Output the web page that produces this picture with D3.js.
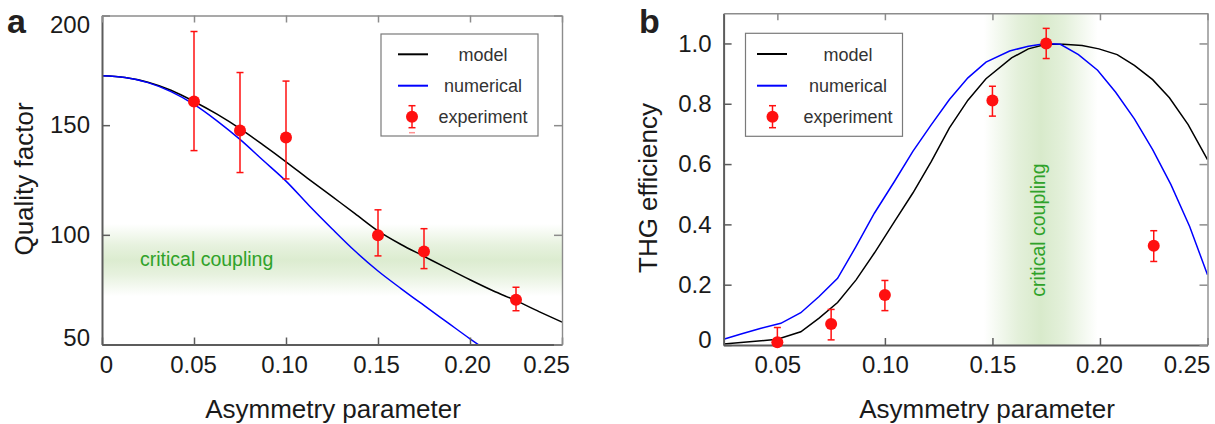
<!DOCTYPE html>
<html>
<head>
<meta charset="utf-8">
<script src="https://cdn.jsdelivr.net/npm/d3@7"></script>
<style>
body { margin: 0; background: #fff; }
svg { display: block; font-family: "Liberation Sans", Arial, Helvetica, sans-serif; }
</style>
</head>
<body>
<svg id="chart" width="1215" height="424"></svg>
<script>
// ---- panel a: quality factor ----
const aExpX = [0.05, 0.075, 0.10, 0.15, 0.175, 0.225];
const aExpQ = [160.8, 147.6, 144.4, 99.8, 92.4, 70.4];
const aExpLow = [138.4, 128.4, 125.5, 90.4, 84.6, 65.4];
const aExpHigh = [192.7, 174.0, 170.1, 111.4, 102.8, 76.1];

const aModelX = [0, 0.0125, 0.025, 0.0375, 0.05, 0.0625, 0.075, 0.0875, 0.10, 0.1125, 0.125, 0.1375, 0.15, 0.1625, 0.175, 0.1875, 0.20, 0.2125, 0.225, 0.2375, 0.25];
const aModelQ = [172.5, 171.7, 169.6, 165.9, 160.8, 155.0, 148.4, 141.0, 133.3, 125.3, 117.5, 109.7, 101.8, 95.6, 90.2, 84.8, 79.5, 74.5, 70.0, 65.0, 60.2];

const aNumX = [0, 0.0125, 0.025, 0.0375, 0.05, 0.0625, 0.075, 0.0875, 0.10, 0.1125, 0.125, 0.1375, 0.15, 0.1625, 0.175, 0.1875, 0.20, 0.2075];
const aNumQ = [172.5, 171.7, 169.4, 165.3, 159.5, 152.0, 143.5, 134.0, 124.5, 113.4, 102.8, 92.6, 83.5, 75.5, 67.8, 60.2, 52.6, 48.2];

const aXTicks = [0, 0.05, 0.10, 0.15, 0.20, 0.25];
const aXLabels = ['0', '0.05', '0.10', '0.15', '0.20', '0.25'];
const aYTicks = [50, 100, 150, 200];
const aYLabels = ['50', '100', '150', '200'];

// ---- panel b: THG efficiency ----
const bExpX = [0.05, 0.075, 0.10, 0.15, 0.175, 0.225];
const bExpEff = [0.009, 0.070, 0.166, 0.811, 1.0, 0.329];
const bExpLow = [0.0, 0.017, 0.114, 0.759, 0.950, 0.277];
const bExpHigh = [0.058, 0.118, 0.214, 0.858, 1.050, 0.379];

const bModelX = [0.025, 0.05, 0.0609, 0.0694, 0.078, 0.0866, 0.0951, 0.1045, 0.113, 0.1216, 0.130, 0.1386, 0.147, 0.1589, 0.1667, 0.175, 0.183, 0.1917, 0.1995, 0.208, 0.216, 0.2245, 0.2323, 0.241, 0.25];
const bModelEff = [0.003, 0.019, 0.044, 0.089, 0.141, 0.216, 0.305, 0.41, 0.504, 0.609, 0.72, 0.812, 0.883, 0.952, 0.982, 0.997, 0.997, 0.993, 0.982, 0.963, 0.927, 0.880, 0.820, 0.731, 0.615];

const bNumX = [0.025, 0.0335, 0.042, 0.0516, 0.0609, 0.0694, 0.078, 0.0866, 0.0951, 0.1045, 0.113, 0.1216, 0.130, 0.1386, 0.147, 0.158, 0.1667, 0.175, 0.1816, 0.190, 0.1989, 0.2073, 0.216, 0.2245, 0.233, 0.2417, 0.25];
const bNumEff = [0.019, 0.037, 0.055, 0.072, 0.107, 0.161, 0.221, 0.327, 0.437, 0.543, 0.642, 0.731, 0.814, 0.886, 0.938, 0.975, 0.991, 1.0, 0.997, 0.963, 0.911, 0.838, 0.75, 0.648, 0.532, 0.393, 0.233];

const bXTicks = [0.05, 0.10, 0.15, 0.20, 0.25];
const bXLabels = ['0.05', '0.10', '0.15', '0.20', '0.25'];
const bYTicks = [0, 0.2, 0.4, 0.6, 0.8, 1.0];
const bYLabels = ['0', '0.2', '0.4', '0.6', '0.8', '1.0'];

const legendLabels = ['model', 'numerical', 'experiment'];
const bandLabel = 'critical coupling';

const svg = d3.select('#chart');
const defs = svg.append('defs');

const FRAME_DARK = '#5c5c5c';
const FRAME_LIGHT = '#8c8c8c';
const RED = '#ff1010';

const drawPanel = (p) => {
    const x = d3.scaleLinear().domain(p.xDomain).range([p.left, p.right]);
    const y = d3.scaleLinear().domain(p.yDomain).range([p.bottom, p.top]);
    const g = svg.append('g');

    defs.append('clipPath').attr('id', `clip-${ p.id }`)
        .append('rect')
        .attr('x', p.left).attr('y', p.top)
        .attr('width', p.right - p.left).attr('height', p.bottom - p.top);

    // green "critical coupling" band
    const grad = defs.append('linearGradient').attr('id', `band-${ p.id }`)
        .attr('x1', 0).attr('y1', 0)
        .attr('x2', p.band.dir === 'h' ? 0 : 1).attr('y2', p.band.dir === 'h' ? 1 : 0);
    [[0, 0], [0.3, 0.7], [0.5, 1], [0.7, 0.7], [1, 0]].forEach(([o, a]) => {
        grad.append('stop').attr('offset', o).attr('stop-color', p.band.color).attr('stop-opacity', a);
    });
    if (p.band.dir === 'h') {
        g.append('rect')
            .attr('x', p.left).attr('width', p.right - p.left)
            .attr('y', y(p.band.hi)).attr('height', y(p.band.lo) - y(p.band.hi))
            .attr('fill', `url(#band-${ p.id })`);
    } else {
        g.append('rect')
            .attr('x', x(p.band.lo)).attr('width', x(p.band.hi) - x(p.band.lo))
            .attr('y', p.top).attr('height', p.bottom - p.top)
            .attr('fill', `url(#band-${ p.id })`);
    }
    const bt = g.append('text')
        .attr('fill', '#2fa22a').attr('font-size', 19.5)
        .text(bandLabel);
    if (p.band.dir === 'h') {
        bt.attr('x', p.band.textX).attr('y', p.band.textY);
    } else {
        bt.attr('text-anchor', 'middle')
            .attr('transform', `translate(${ p.band.textX },${ p.band.textY }) rotate(-90)`);
    }

    // curves
    const curves = g.append('g').attr('clip-path', `url(#clip-${ p.id })`);
    const line = d3.line().x(d => x(d[0])).y(d => y(d[1])).curve(p.curve);
    curves.append('path')
        .datum(d3.zip(p.modelX, p.modelY))
        .attr('fill', 'none').attr('stroke', '#000').attr('stroke-width', 1.5)
        .attr('d', line);
    curves.append('path')
        .datum(d3.zip(p.numX, p.numY))
        .attr('fill', 'none').attr('stroke', '#0000ff').attr('stroke-width', 1.5)
        .attr('d', line);

    // axes (ticks inside, mirrored on top/right)
    const styleAxis = (ax, color, width) => {
        ax.attr('font-family', null).attr('font-size', 24);
        ax.select('.domain').attr('stroke', color).attr('stroke-width', width);
        ax.selectAll('.tick line').attr('stroke', color).attr('stroke-width', 1.5);
        ax.selectAll('.tick text').attr('fill', '#1a1a1a');
    };
    const bottom = g.append('g').attr('transform', `translate(0,${ p.bottom })`)
        .call(d3.axisBottom(x).tickValues(p.xTicks).tickFormat((d, i) => p.xLabels[i])
            .tickSizeInner(-7).tickSizeOuter(0).tickPadding(11));
    styleAxis(bottom, FRAME_DARK, 2);
    bottom.selectAll('.tick text').attr('dx', (d, i) => p.xShift[i] || 0);

    const left = g.append('g').attr('transform', `translate(${ p.left },0)`)
        .call(d3.axisLeft(y).tickValues(p.yTicks).tickFormat((d, i) => p.yLabels[i])
            .tickSizeInner(-8).tickSizeOuter(0).tickPadding(12));
    styleAxis(left, FRAME_DARK, 2);
    left.selectAll('.tick text').attr('dy', (d, i) => `${ 0.32 * 24 + (p.yShift[i] || 0) }px`);

    const top = g.append('g').attr('transform', `translate(0,${ p.top })`)
        .call(d3.axisTop(x).tickValues(p.xTicks).tickFormat('').tickSizeInner(-7).tickSizeOuter(0));
    styleAxis(top, FRAME_LIGHT, 1.4);
    const right = g.append('g').attr('transform', `translate(${ p.right },0)`)
        .call(d3.axisRight(y).tickValues(p.yTicks).tickFormat('').tickSizeInner(-8).tickSizeOuter(0));
    styleAxis(right, FRAME_LIGHT, 1.4);

    // experiment points with error bars
    const pts = g.append('g');
    const data = p.expX.map((v, i) => ({ x: v, y: p.expY[i], lo: p.expLow[i], hi: p.expHigh[i] }));
    const eb = pts.selectAll('g.eb').data(data).join('g').attr('class', 'eb')
        .attr('stroke', RED).attr('stroke-width', 1.5);
    eb.append('line')
        .attr('x1', d => x(d.x)).attr('x2', d => x(d.x))
        .attr('y1', d => y(d.lo)).attr('y2', d => y(d.hi));
    eb.append('line')
        .attr('x1', d => x(d.x) - 3.5).attr('x2', d => x(d.x) + 3.5)
        .attr('y1', d => y(d.lo)).attr('y2', d => y(d.lo));
    eb.append('line')
        .attr('x1', d => x(d.x) - 3.5).attr('x2', d => x(d.x) + 3.5)
        .attr('y1', d => y(d.hi)).attr('y2', d => y(d.hi));
    pts.selectAll('circle').data(data).join('circle')
        .attr('cx', d => x(d.x)).attr('cy', d => y(d.y)).attr('r', 6)
        .attr('fill', RED);

    // legend
    const L = p.legend;
    const lg = g.append('g');
    lg.append('rect')
        .attr('x', L.x).attr('y', L.y).attr('width', L.w).attr('height', L.h)
        .attr('fill', '#fff').attr('stroke', '#7a7a7a').attr('stroke-width', 1.2);
    ['#000', '#0000ff'].forEach((c, i) => {
        lg.append('line')
            .attr('x1', L.sx1).attr('x2', L.sx2).attr('y1', L.rows[i]).attr('y2', L.rows[i])
            .attr('stroke', c).attr('stroke-width', 2);
    });
    const my = L.rows[2];
    lg.append('line').attr('x1', L.mx).attr('x2', L.mx).attr('y1', my - 11).attr('y2', my + 11)
        .attr('stroke', RED).attr('stroke-width', 1.5);
    [my - 11, my + 11].forEach(v => {
        lg.append('line').attr('x1', L.mx - 3.5).attr('x2', L.mx + 3.5).attr('y1', v).attr('y2', v)
            .attr('stroke', RED).attr('stroke-width', 1.5);
    });
    lg.append('circle').attr('cx', L.mx).attr('cy', my).attr('r', 6).attr('fill', RED);
    if (L.ghost) {
        lg.append('line').attr('x1', L.mx - 3).attr('x2', L.mx + 3).attr('y1', my + 16).attr('y2', my + 16)
            .attr('stroke', RED).attr('stroke-opacity', 0.45).attr('stroke-width', 1.5);
    }
    lg.selectAll('text.lt').data(legendLabels).join('text').attr('class', 'lt')
        .attr('x', L.tx).attr('y', (d, i) => L.rows[i] + 6.5)
        .attr('text-anchor', 'middle').attr('font-size', 18).attr('fill', '#333')
        .text(d => d);

    // titles
    g.append('text')
        .attr('x', p.xTitleX).attr('y', 418)
        .attr('text-anchor', 'middle').attr('font-size', 26).attr('fill', '#1a1a1a')
        .text('Asymmetry parameter');
    g.append('text')
        .attr('transform', `translate(${ p.yTitleX },${ p.yTitleY }) rotate(-90)`)
        .attr('text-anchor', 'middle').attr('font-size', 26).attr('fill', '#1a1a1a')
        .text(p.yTitle);
    g.append('text')
        .attr('x', p.tag.x).attr('y', p.tag.y)
        .attr('font-size', 34).attr('font-weight', 'bold').attr('fill', '#231f20')
        .text(p.tag.text);
};

drawPanel({
    id: 'a',
    left: 102, right: 562, top: 15.5, bottom: 344.5,
    xDomain: [0, 0.25], yDomain: [50, 200],
    xTicks: aXTicks, xLabels: aXLabels, xShift: [4, -1, -2, -2, -3, -16],
    yTicks: aYTicks, yLabels: aYLabels, yShift: [-7, 0, 0, 9],
    curve: d3.curveMonotoneX,
    modelX: aModelX, modelY: aModelQ, numX: aNumX, numY: aNumQ,
    expX: aExpX, expY: aExpQ, expLow: aExpLow, expHigh: aExpHigh,
    band: { dir: 'h', lo: 72, hi: 105, color: '#dcecd0', textX: 140, textY: 266 },
    legend: { x: 381, y: 34, w: 157, h: 102, sx1: 398, sx2: 428, mx: 412, tx: 483, rows: [54.3, 85.7, 116.7], ghost: true },
    xTitleX: 333, yTitle: 'Quality factor', yTitleX: 33, yTitleY: 179,
    tag: { text: 'a', x: 7, y: 33 }
});

drawPanel({
    id: 'b',
    left: 723.6, right: 1207.5, top: 13.3, bottom: 345,
    xDomain: [0.025, 0.25], yDomain: [0, 1.1],
    xTicks: bXTicks, xLabels: bXLabels, xShift: [0, 0, 0, -1, -21],
    yTicks: bYTicks, yLabels: bYLabels, yShift: [-5, 0, 0, 0, 0, 0],
    curve: d3.curveLinear,
    modelX: bModelX, modelY: bModelEff, numX: bNumX, numY: bNumEff,
    expX: bExpX, expY: bExpEff, expLow: bExpLow, expHigh: bExpHigh,
    band: { dir: 'v', lo: 0.146, hi: 0.199, color: '#d8eacb', textX: 1045, textY: 230 },
    legend: { x: 745.5, y: 33.3, w: 157, h: 103, sx1: 757, sx2: 787, mx: 772.5, tx: 848, rows: [54, 85.7, 116.7] },
    xTitleX: 987, yTitle: 'THG efficiency', yTitleX: 657, yTitleY: 188,
    tag: { text: 'b', x: 639, y: 33 }
});
</script>
</body>
</html>
